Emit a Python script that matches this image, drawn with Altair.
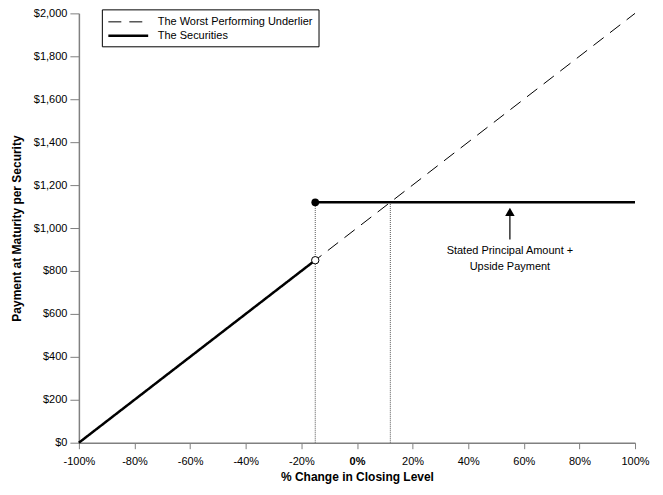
import altair as alt
import pandas as pd

# Data
x_ticks = [-100, -80, -60, -40, -20, 0, 20, 40, 60, 80, 100]
y_ticks = [0, 200, 400, 600, 800, 1000, 1200, 1400, 1600, 1800, 2000]

series_names = ["The Worst Performing Underlier", "The Securities"]
underlier_x = [-100, 100]
underlier_y = [0, 2000]
sec_seg1_x = [-100, -15]
sec_seg1_y = [0, 850]
sec_seg2_x = [-15, 100]
sec_seg2_y = [1120, 1120]

threshold_x = -15
threshold_y = 850
cap_y = 1120
cross_x = 12

arrow_x = 55
arrow_y0 = 947
arrow_y1 = 1065
arrow_head_y = 1075
note_lines = ["Stated Principal Amount +", "Upside Payment"]
note_y = [892, 818]

FONT = "Liberation Sans"
DASH = [13, 8]

rows = []
for xv, yv in zip(underlier_x, underlier_y):
    rows.append({"x": xv, "y": yv, "series": series_names[0], "seg": "u"})
for xv, yv in zip(sec_seg1_x, sec_seg1_y):
    rows.append({"x": xv, "y": yv, "series": series_names[1], "seg": "s1"})
for xv, yv in zip(sec_seg2_x, sec_seg2_y):
    rows.append({"x": xv, "y": yv, "series": series_names[1], "seg": "s2"})
lines_df = pd.DataFrame(rows)

xscale = alt.Scale(domain=[-100, 100], nice=False, zero=False)
yscale = alt.Scale(domain=[0, 2000], nice=False)

xaxis = alt.Axis(
    values=x_ticks, labelExpr="datum.value + '%'", title="% Change in Closing Level",
    grid=False, tickSize=6, labelPadding=7, titlePadding=5, labelFlush=False,
    labelFontWeight=alt.expr("datum.value == 0 ? 'bold' : 'normal'"),
)
yaxis = alt.Axis(
    values=y_ticks, format="$,.0f", title="Payment at Maturity per Security",
    grid=False, tickSize=9, labelPadding=3, titlePadding=10, labelFlush=False,
)

lines = alt.Chart(lines_df).mark_line(color="black").encode(
    x=alt.X("x:Q", scale=xscale, axis=xaxis),
    y=alt.Y("y:Q", scale=yscale, axis=yaxis),
    detail="seg:N",
    strokeDash=alt.StrokeDash(
        "series:N",
        scale=alt.Scale(domain=series_names, range=[DASH, [1, 0]]),
        legend=alt.Legend(
            title=None, orient="none", legendX=23, legendY=-4,
            strokeColor="black", padding=5, symbolType="M-1,0H4.7",
            symbolSize=196, labelFont=FONT, labelFontSize=11,
            symbolStrokeColor="black", rowPadding=0, labelOffset=34,
            symbolOffset=0, labelColor="black",
        ),
    ),
    strokeWidth=alt.StrokeWidth(
        "series:N",
        scale=alt.Scale(domain=series_names, range=[1, 2.5]),
        legend=None,
    ),
)

rules_df = pd.DataFrame({"x": [threshold_x, cross_x], "y0": [0, 0], "y1": [cap_y, cap_y]})
rules = alt.Chart(rules_df).mark_rule(color="#555555", strokeDash=[1, 1], strokeWidth=1).encode(
    x="x:Q", y="y0:Q", y2="y1:Q"
)

filled_df = pd.DataFrame({"x": [threshold_x], "y": [cap_y]})
filled = alt.Chart(filled_df).mark_point(filled=True, color="black", size=60, opacity=1).encode(
    x="x:Q", y="y:Q"
)
open_df = pd.DataFrame({"x": [threshold_x], "y": [threshold_y]})
openpt = alt.Chart(open_df).mark_point(filled=True, fill="white", stroke="black", strokeWidth=1, size=55, opacity=1).encode(
    x="x:Q", y="y:Q"
)

arrow_df = pd.DataFrame({"x": [arrow_x], "y0": [arrow_y0], "y1": [arrow_y1]})
arrow = alt.Chart(arrow_df).mark_rule(color="black", strokeWidth=1.2).encode(
    x="x:Q", y="y0:Q", y2="y1:Q"
)
head_df = pd.DataFrame({"x": [arrow_x], "y": [arrow_head_y]})
head = alt.Chart(head_df).mark_point(shape="triangle-up", filled=True, color="black", size=90, opacity=1).encode(
    x="x:Q", y="y:Q"
)

note_df = pd.DataFrame({"x": [arrow_x, arrow_x], "y": note_y, "t": note_lines})
note = alt.Chart(note_df).mark_text(font=FONT, fontSize=11, color="black").encode(
    x="x:Q", y="y:Q", text="t:N"
)

chart = alt.layer(rules, lines, filled, openpt, arrow, head, note).properties(
    width=557, height=430,
    autosize=alt.AutoSizeParams(type="none"),
    padding={"left": 71, "top": 5, "right": 20, "bottom": 44},
).configure_view(stroke=None).configure_axis(
    labelFont=FONT, titleFont=FONT, labelFontSize=11, titleFontSize=12,
    titleFontWeight="bold", labelColor="black", titleColor="black",
    domainColor="#808080", tickColor="#808080", domainWidth=1.5,
)

chart.save("out.html", embed_options={"renderer": "svg", "actions": False})
